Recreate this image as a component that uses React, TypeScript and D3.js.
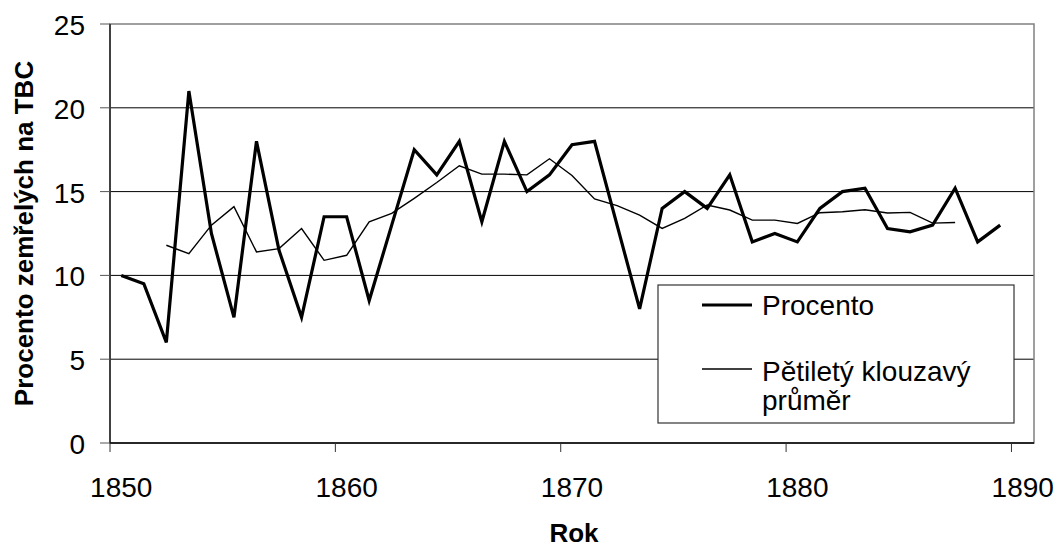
import { useRef, useEffect } from "react";
import * as d3 from "d3";

// kategorie (roky) na ose x
const years = [
  1850, 1851, 1852, 1853, 1854, 1855, 1856, 1857, 1858, 1859,
  1860, 1861, 1862, 1863, 1864, 1865, 1866, 1867, 1868, 1869,
  1870, 1871, 1872, 1873, 1874, 1875, 1876, 1877, 1878, 1879,
  1880, 1881, 1882, 1883, 1884, 1885, 1886, 1887, 1888, 1889, 1890,
];

// procento zemřelých na TBC, 1850–1889
const procento = [
  10, 9.5, 6, 21, 12.5, 7.5, 18, 11.5, 7.5, 13.5,
  13.5, 8.5, 13, 17.5, 16, 18, 13.2, 18, 15, 16,
  17.8, 18, 13, 8, 14, 15, 14, 16, 12, 12.5,
  12, 14, 15, 15.2, 12.8, 12.6, 13, 15.2, 12, 13,
];

// pětiletý klouzavý průměr, 1852–1887
const avgYears = [
  1852, 1853, 1854, 1855, 1856, 1857, 1858, 1859, 1860, 1861,
  1862, 1863, 1864, 1865, 1866, 1867, 1868, 1869, 1870, 1871,
  1872, 1873, 1874, 1875, 1876, 1877, 1878, 1879, 1880, 1881,
  1882, 1883, 1884, 1885, 1886, 1887,
];
const prumer = [
  11.8, 11.3, 13, 14.1, 11.4, 11.6, 12.8, 10.9, 11.2, 13.2,
  13.7, 14.6, 15.54, 16.54, 16.04, 16.04, 16, 16.96, 15.96, 14.56,
  14.16, 13.6, 12.8, 13.4, 14.2, 13.9, 13.3, 13.3, 13.1, 13.74,
  13.8, 13.92, 13.72, 13.76, 13.12, 13.16,
];

const yTicks = [0, 5, 10, 15, 20, 25];
const xLabels = [1850, 1860, 1870, 1880, 1890];

const FONT = "'Liberation Sans', Arial, sans-serif";

const App = () => {
  const ref = useRef<HTMLDivElement>(null);

  useEffect(() => {
    const root = d3.select(ref.current);
    root.selectAll("*").remove();

    const W = 1059;
    const H = 548;
    const left = 110;
    const right = 1034;
    const top = 24;
    const bottom = 443;

    const svg = root
      .append("svg")
      .attr("width", W)
      .attr("height", H)
      .style("position", "absolute")
      .style("left", 0)
      .style("top", 0)
      .style("font-family", FONT);

    svg.append("rect").attr("width", W).attr("height", H).attr("fill", "#fff");

    const x = d3.scaleBand<number>().domain(years).range([left, right]).padding(0);
    const y = d3.scaleLinear().domain([0, 25]).range([bottom, top]);
    const cx = (yr: number) => (x(yr) as number) + x.bandwidth() / 2;

    // mřížka
    svg
      .selectAll("line.grid")
      .data(yTicks.filter((t) => t > 0 && t < 25))
      .join("line")
      .attr("x1", left)
      .attr("x2", right)
      .attr("y1", (d) => y(d))
      .attr("y2", (d) => y(d))
      .attr("stroke", "#000")
      .attr("stroke-width", 1);

    // rámeček plochy grafu
    svg
      .append("rect")
      .attr("x", left)
      .attr("y", top)
      .attr("width", right - left)
      .attr("height", bottom - top)
      .attr("fill", "none")
      .attr("stroke", "#808080")
      .attr("stroke-width", 1.5);

    // osa y
    svg
      .append("line")
      .attr("x1", left)
      .attr("x2", left)
      .attr("y1", top)
      .attr("y2", bottom)
      .attr("stroke", "#222")
      .attr("stroke-width", 1.5);
    svg
      .selectAll("line.yt")
      .data(yTicks)
      .join("line")
      .attr("x1", left - 10)
      .attr("x2", left)
      .attr("y1", (d) => y(d))
      .attr("y2", (d) => y(d))
      .attr("stroke", "#555");
    svg
      .selectAll("text.yl")
      .data(yTicks)
      .join("text")
      .attr("x", 85)
      .attr("y", (d) => y(d) + 11)
      .attr("text-anchor", "end")
      .attr("font-size", 28)
      .text((d) => d);

    // osa x
    svg
      .append("line")
      .attr("x1", left)
      .attr("x2", right)
      .attr("y1", bottom)
      .attr("y2", bottom)
      .attr("stroke", "#000")
      .attr("stroke-width", 1.5);
    svg
      .selectAll("line.xt")
      .data(xLabels)
      .join("line")
      .attr("x1", (d) => x(d) as number)
      .attr("x2", (d) => x(d) as number)
      .attr("y1", bottom)
      .attr("y2", bottom + 9)
      .attr("stroke", "#333");
    svg
      .selectAll("text.xl")
      .data(xLabels)
      .join("text")
      .attr("x", (d) => cx(d))
      .attr("y", 497)
      .attr("text-anchor", "middle")
      .attr("font-size", 28)
      .text((d) => d);

    // popisky os
    svg
      .append("text")
      .attr("x", 574)
      .attr("y", 542)
      .attr("text-anchor", "middle")
      .attr("font-size", 26)
      .attr("font-weight", "bold")
      .text("Rok");
    svg
      .append("text")
      .attr("transform", `translate(33,${(top + bottom) / 2}) rotate(-90)`)
      .attr("text-anchor", "middle")
      .attr("font-size", 26)
      .attr("font-weight", "bold")
      .text("Procento zemřelých na TBC");

    // řady
    const line = d3
      .line<[number, number]>()
      .x((d) => cx(d[0]))
      .y((d) => y(d[1]));

    svg
      .append("path")
      .attr("d", line(avgYears.map((yr, i) => [yr, prumer[i]]) as [number, number][]))
      .attr("fill", "none")
      .attr("stroke", "#000")
      .attr("stroke-width", 1.4);

    svg
      .append("path")
      .attr("d", line(procento.map((v, i) => [years[i], v]) as [number, number][]))
      .attr("fill", "none")
      .attr("stroke", "#000")
      .attr("stroke-width", 3.2)
      .attr("stroke-linejoin", "miter");

    // legenda
    const lg = svg.append("g");
    lg.append("rect")
      .attr("x", 658)
      .attr("y", 285)
      .attr("width", 356)
      .attr("height", 138)
      .attr("fill", "#fff")
      .attr("stroke", "#333")
      .attr("stroke-width", 1.2);
    lg.append("line")
      .attr("x1", 702)
      .attr("x2", 752)
      .attr("y1", 305)
      .attr("y2", 305)
      .attr("stroke", "#000")
      .attr("stroke-width", 3.2);
    lg.append("text").attr("x", 762).attr("y", 315).attr("font-size", 28).text("Procento");
    lg.append("line")
      .attr("x1", 702)
      .attr("x2", 752)
      .attr("y1", 369)
      .attr("y2", 369)
      .attr("stroke", "#000")
      .attr("stroke-width", 1.4);
    lg.append("text").attr("x", 762).attr("y", 381).attr("font-size", 28).text("Pětiletý klouzavý");
    lg.append("text").attr("x", 762).attr("y", 410).attr("font-size", 28).text("průměr");
  }, []);

  return <div ref={ref} />;
};

export default App;
